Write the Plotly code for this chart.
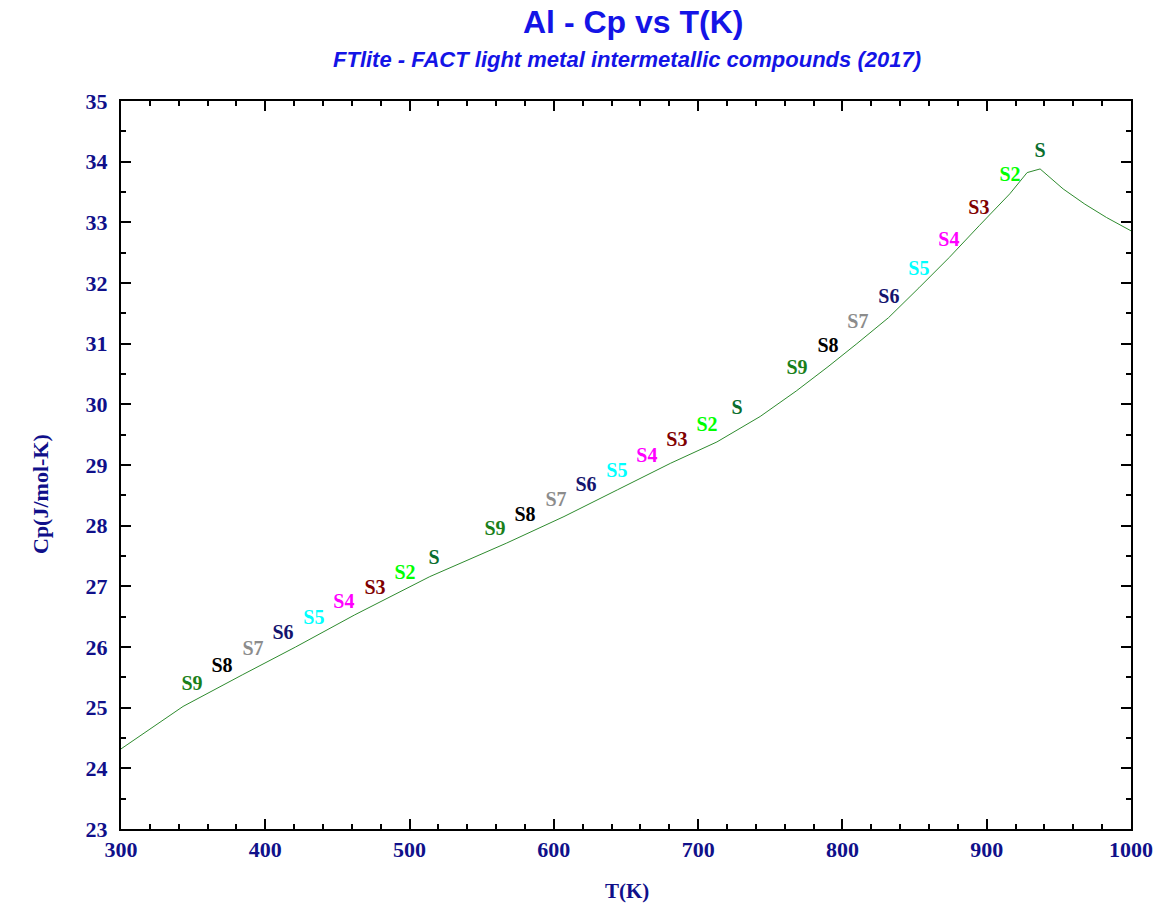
import plotly.graph_objects as go

# Curve data: Cp of Al vs temperature
T_K = [300, 343, 384, 421, 462, 514, 567, 607, 644, 681, 713, 743, 768, 790, 810,
       832, 853, 874, 895, 916, 928, 937, 953, 968, 983, 1000]
Cp = [24.32, 25.02, 25.54, 26.00, 26.53, 27.16, 27.71, 28.15, 28.59, 29.03, 29.38,
      29.80, 30.22, 30.62, 31.00, 31.43, 31.92, 32.42, 32.95, 33.47, 33.82, 33.88,
      33.55, 33.30, 33.08, 32.86]

# Phase labels along the curve
label_text = ["S9", "S8", "S7", "S6", "S5", "S4", "S3", "S2", "S"] * 3
label_T = [349.2, 370.0, 391.5, 412.3, 433.7, 454.5, 476.0, 496.8, 516.9,
           559.2, 580.0, 601.5, 622.3, 643.7, 664.5, 685.3, 706.1, 726.9,
           768.5, 790.0, 810.7, 832.2, 853.0, 873.8, 894.6, 916.1, 936.9]
label_Cp = [25.37, 25.67, 25.95, 26.21, 26.46, 26.73, 26.96, 27.20, 27.45,
            27.93, 28.16, 28.41, 28.65, 28.88, 29.13, 29.40, 29.64, 29.92,
            30.58, 30.94, 31.34, 31.75, 32.21, 32.69, 33.22, 33.76, 34.16]
label_palette = {"S9": "#1a801a", "S8": "#000000", "S7": "#8c8c8c", "S6": "#14146e",
                 "S5": "#00ffff", "S4": "#ff00ff", "S3": "#800000", "S2": "#00ff00",
                 "S": "#0a6e2e"}
label_colors = [label_palette[t] for t in label_text]

navy = "#10108a"
blue = "#1414e6"
serif = "Times New Roman, Liberation Serif, serif"
sans = "Arial, Liberation Sans, sans-serif"

W, H = 1167, 905
ML, MT = 121, 101
MR = W - 1131
MB = H - 829
plot_w = W - ML - MR
plot_h = H - MT - MB


def px_x(px):
    return (px - ML) / plot_w


def px_y(py):
    return 1 + (MT - py) / plot_h


fig = go.Figure()
fig.add_trace(go.Scatter(x=T_K, y=Cp, mode="lines",
                         line=dict(color="#2e8b2e", width=1),
                         hoverinfo="skip", showlegend=False))
fig.add_trace(go.Scatter(x=label_T, y=label_Cp, mode="text", text=label_text,
                         textposition="middle center", hoverinfo="skip",
                         textfont=dict(family=serif, size=20, color=label_colors, weight="bold"),
                         showlegend=False))

axis_common = dict(showline=True, linecolor="black", linewidth=2, mirror="ticks",
                   ticks="inside", tickcolor="black", tickwidth=2, ticklen=10,
                   showgrid=False, zeroline=False, automargin=False,
                   tickfont=dict(family=serif, size=22, color=navy, weight="bold"))

fig.update_xaxes(range=[300, 1000], tick0=300, dtick=100,
                 minor=dict(ticks="inside", dtick=20, ticklen=5, tickwidth=2,
                            tickcolor="black", showgrid=False),
                 **axis_common)
fig.update_yaxes(range=[23, 35], tick0=23, dtick=1, ticklabelstandoff=7,
                 minor=dict(ticks="inside", dtick=0.5, ticklen=5, tickwidth=2,
                            tickcolor="black", showgrid=False),
                 **axis_common)

fig.update_layout(
    width=W, height=H,
    margin=dict(l=ML, r=MR, t=MT, b=MB),
    plot_bgcolor="white", paper_bgcolor="white",
    annotations=[
        dict(text="<b>Al - Cp vs T(K)</b>", x=px_x(633), y=px_y(22), xref="paper", yref="paper",
             showarrow=False, yanchor="middle", xanchor="center",
             font=dict(family=sans, size=32, color=blue)),
        dict(text="<b><i>FTlite - FACT light metal intermetallic compounds (2017)</i></b>",
             x=px_x(627), y=px_y(60), xref="paper", yref="paper", showarrow=False,
             yanchor="middle", xanchor="center",
             font=dict(family=sans, size=22, color=blue)),
        dict(text="<b>T(K)</b>", x=px_x(627), y=px_y(891), xref="paper", yref="paper",
             showarrow=False, yanchor="middle", xanchor="center",
             font=dict(family=serif, size=21, color=navy)),
        dict(text="<b>Cp(J/mol-K)</b>", x=px_x(40), y=px_y(494), xref="paper", yref="paper",
             showarrow=False, yanchor="middle", xanchor="center", textangle=-90,
             font=dict(family=serif, size=22, color=navy)),
    ],
)

# remove the default page margin so the figure fills the window exactly
fig.write_html("out.html", config={"displayModeBar": False},
               post_script="document.body.style.margin='0';document.body.style.padding='0';"
                           "document.body.style.overflow='hidden';")
